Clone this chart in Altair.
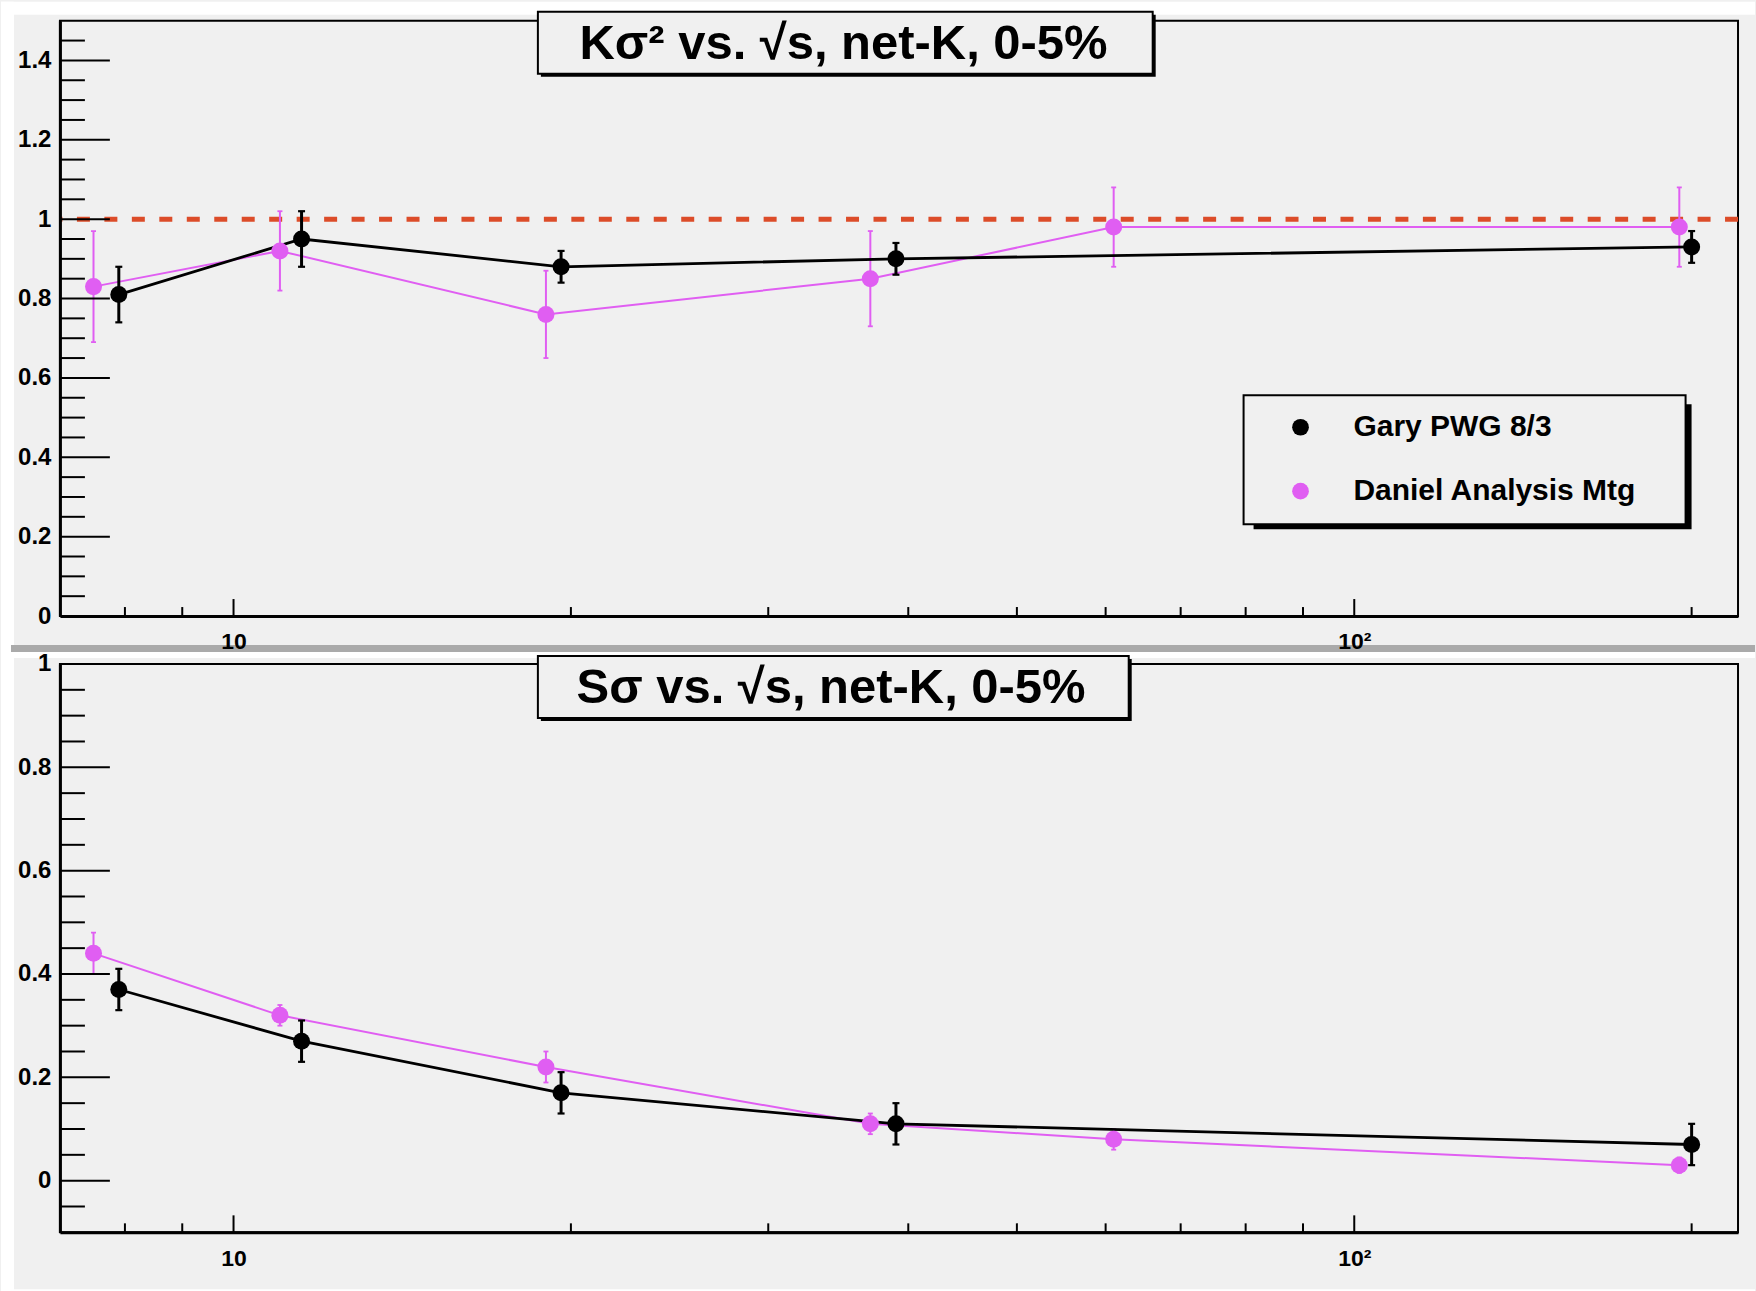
import altair as alt
import pandas as pd

# ---- measured values ------------------------------------------------------
series_names = ["Gary PWG 8/3", "Daniel Analysis Mtg"]
series_colors = ["#000000", "#e05ef2"]

# collision energy sqrt(s_NN) in GeV
gary_energy = [7.9, 11.5, 19.6, 39.0, 200.0]
daniel_energy = [7.5, 11.0, 19.0, 37.0, 61.0, 195.0]

# K sigma^2
gary_ks2 = [0.81, 0.95, 0.88, 0.90, 0.93]
gary_ks2_err = [0.07, 0.07, 0.04, 0.04, 0.04]
daniel_ks2 = [0.83, 0.92, 0.76, 0.85, 0.98, 0.98]
daniel_ks2_err = [0.14, 0.10, 0.11, 0.12, 0.10, 0.10]

# S sigma
gary_ss = [0.37, 0.27, 0.17, 0.11, 0.07]
gary_ss_err = [0.04, 0.04, 0.04, 0.04, 0.04]
daniel_ss = [0.44, 0.32, 0.22, 0.11, 0.08, 0.03]
daniel_ss_err = [0.04, 0.02, 0.03, 0.02, 0.02, 0.015]

reference_level = 1.0

# axis tick positions
x_label_ticks = [10, 100]
x_minor_ticks = [8, 9, 20, 30, 40, 50, 60, 70, 80, 90, 200]
top_major = [0, 0.2, 0.4, 0.6, 0.8, 1.0, 1.2, 1.4]
top_minor = [round(0.05 * i, 2) for i in range(0, 30) if i % 4]
bottom_major = [0, 0.2, 0.4, 0.6, 0.8, 1.0]
bottom_minor = [round(0.05 * i, 2) for i in range(-1, 20) if i % 4]

top_title = "K\u03c3\u00b2 vs. \u221as, net-K, 0-5%"
bottom_title = "S\u03c3 vs. \u221as, net-K, 0-5%"

# ---- styling ---------------------------------------------------------------
W = 1680
H_TOP = 596
H_BOT = 569
BG = "#f0f0f0"
BAND = "#aaaaaa"
FONT = "Liberation Sans"
X_DOMAIN = [7, 220]
ONE = pd.DataFrame({"k": [0]})


def long_frame(g_e, g_v, g_err, d_e, d_v, d_err):
    rows = []
    for name, es, vs, errs in ((series_names[1], d_e, d_v, d_err),
                                (series_names[0], g_e, g_v, g_err)):
        for e, v, er in zip(es, vs, errs):
            rows.append({"series": name, "energy": e, "value": v,
                         "lo": v - er, "hi": v + er})
    return pd.DataFrame(rows)


def box(x1, x2, y1, y2, **mark):
    return alt.Chart(ONE).mark_rect(**mark).encode(
        x=alt.value(x1), x2=alt.value(x2), y=alt.value(y1), y2=alt.value(y2))


def panel(df, height, y_domain, major, minor, title_text, title_geom,
          legend, decor, dashed):
    xs = alt.Scale(type="log", domain=X_DOMAIN, nice=False)
    ys = alt.Scale(domain=y_domain, nice=False, zero=False)
    common = dict(ticks=False, tickSize=0, grid=False, title=None,
                  domainColor="black", domainWidth=3, labelFont=FONT,
                  labelFontWeight="bold", labelColor="black",
                  labelFlush=False, labelOverlap=False, labelLimit=200,
                  zindex=1)
    x_axis = alt.Axis(values=x_label_ticks,
                      labelExpr="datum.value == 10 ? '10' : '10\u00b2'",
                      labelFontSize=23, labelPadding=15, **common)
    y_axis = alt.Axis(values=major, format="~g", labelFontSize=24,
                      labelPadding=9, **common)

    # every layer carries the same axis definition so the merged axis is drawn
    def X(field="energy:Q"):
        return alt.X(field, scale=xs, axis=x_axis)

    def Y(field):
        return alt.Y(field, scale=ys, axis=y_axis)

    layers = list(decor)

    if dashed:
        layers.append(
            alt.Chart(ONE).mark_rule(color="#dc4c29", strokeWidth=5,
                                     strokeDash=[13, 14.5]).encode(
                y=alt.datum(reference_level, scale=ys, axis=y_axis)))

    styles = {series_names[1]: (series_colors[1], 2, 2, 5, 1.8),
              series_names[0]: (series_colors[0], 2.8, 3, 7, 2.2)}
    for name in (series_names[1], series_names[0]):
        color, lw, ew, cap, capw = styles[name]
        sub = alt.Chart(df[df["series"] == name])
        layers.append(sub.mark_line(color=color, strokeWidth=lw).encode(
            x=X(), y=Y("value:Q")))
        layers.append(sub.mark_rule(color=color, strokeWidth=ew).encode(
            x=X(), y=Y("lo:Q"), y2="hi:Q"))
        for end in ("lo:Q", "hi:Q"):
            layers.append(sub.mark_tick(orient="horizontal", color=color,
                                        size=cap, thickness=capw,
                                        opacity=1).encode(x=X(), y=Y(end)))

    layers.append(alt.Chart(df).mark_point(filled=True, size=290, opacity=1,
                                           shape="circle").encode(
        x=X(),
        y=Y("value:Q"),
        color=alt.Color("series:N",
                        scale=alt.Scale(domain=series_names,
                                        range=series_colors),
                        legend=legend),
    ))

    # inward-pointing tick marks, ROOT style
    for vals, length in ((major, 50), (minor, 25)):
        layers.append(alt.Chart(pd.DataFrame({"tick": vals})).mark_rule(
            color="black", strokeWidth=2).encode(
            y=Y("tick:Q"), x=alt.value(0), x2=alt.value(length)))
    for vals, length in ((x_label_ticks, 17), (x_minor_ticks, 9)):
        layers.append(alt.Chart(pd.DataFrame({"tick": vals})).mark_rule(
            color="black", strokeWidth=2).encode(
            x=X("tick:Q"), y=alt.value(height - length), y2=alt.value(height)))

    # boxed title
    bx1, bx2, by1, by2, tx, ty = title_geom
    layers.append(box(bx1 + 3, bx2 + 3, by1 + 3, by2 + 3, color="black"))
    layers.append(box(bx1, bx2, by1, by2, fill=BG, stroke="black",
                      strokeWidth=2))
    layers.append(alt.Chart(ONE).mark_text(
        text=title_text, font=FONT, fontSize=49, fontWeight="bold",
        color="black", align="center", baseline="alphabetic").encode(
        x=alt.value(tx), y=alt.value(ty)))

    return alt.layer(*layers).properties(width=W, height=height)


top_df = long_frame(gary_energy, gary_ks2, gary_ks2_err,
                    daniel_energy, daniel_ks2, daniel_ks2_err)
bottom_df = long_frame(gary_energy, gary_ss, gary_ss_err,
                       daniel_energy, daniel_ss, daniel_ss_err)

top_legend = alt.Legend(orient="none", legendX=1227, legendY=392, title=None,
                        labelFont=FONT, labelFontSize=30,
                        labelFontWeight="bold", labelColor="black",
                        labelLimit=500,
                        symbolType="circle", symbolSize=280,
                        symbolStrokeWidth=0, symbolOffset=0, labelOffset=38,
                        rowPadding=34, padding=0, offset=0)

top_decor = [
    box(-59, 1697, -19, -6, color="white"),            # top margin
    box(-59, -46, -19, 1272, color="white"),           # left margin
    box(-49, 1697, 625, 632, color=BAND),              # canvas separator
    box(-59, 1697, 632, 638, color="white"),
    # legend frame with drop shadow
    box(1195, 1633.5, 384, 509, color="black"),
    box(1185, 1627.5, 375, 504, fill=BG, stroke="black", strokeWidth=2),
]
bottom_decor = [
    box(-59, 1697, 626, 628, color="white"),           # bottom margin
]

top = panel(top_df, H_TOP, [0, 1.5], top_major, top_minor, top_title,
            (478.5, 1094, -9, 53, 784.5, 38), top_legend, top_decor, True)
bottom = panel(bottom_df, H_BOT, [-0.1, 1.0], bottom_major, bottom_minor,
               bottom_title, (478.5, 1070, -8, 54, 772, 39), None,
               bottom_decor, False)

chart = alt.vconcat(top, bottom, spacing=48, bounds="flush").resolve_scale(
    color="independent").properties(
    padding=0, background=BG).configure_view(
    stroke="black", strokeWidth=2)

chart.save("out.html", embed_options={"renderer": "svg", "actions": False})
